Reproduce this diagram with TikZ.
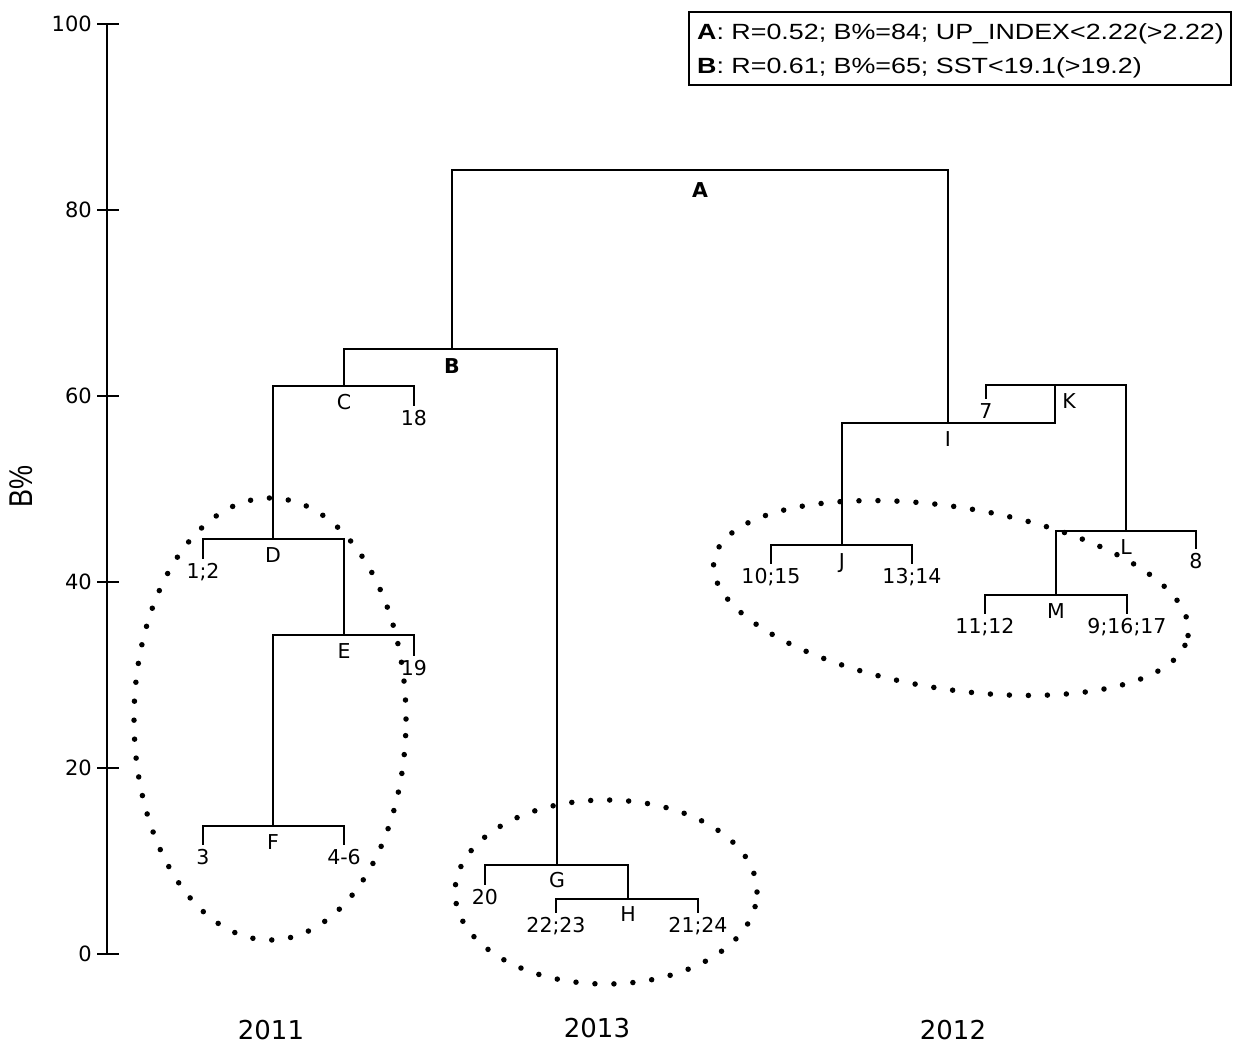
\documentclass[tikz,border=0pt]{standalone}
\usepackage{fontspec}
\setmainfont{DejaVu Sans}
\newfontfamily\arialf{Liberation Sans}
\begin{document}
\begin{tikzpicture}[x=1pt,y=-1pt,
  tree/.style={line width=2.1pt, line join=miter, line cap=rect},
  leaf/.style={anchor=north, inner sep=0pt, outer xsep=0pt, outer ysep=5.5pt,
    font=\fontsize{20.5}{24}\selectfont, text height=15pt, text depth=0pt},
  clab/.style={anchor=north, inner sep=0pt, yshift=-8pt,
    font=\fontsize{20.5}{24}\selectfont, text height=15pt, text depth=0pt},
  blab/.style={anchor=north, inner sep=0pt,
    font=\fontsize{20.5}{24}\selectfont\bfseries, text height=15pt, text depth=0pt},
  tick/.style={anchor=east, inner sep=0pt, font=\fontsize{21}{24}\selectfont},
  year/.style={inner sep=0pt, font=\fontsize{26}{30}\selectfont},
  legtxt/.style={anchor=base west, inner sep=0pt, font=\arialf\fontsize{22}{26}\selectfont},
  dotline/.style={line width=5.5pt, line cap=round, dash pattern=on 0pt off 19pt}
]
\useasboundingbox[fill=white] (0,0) rectangle (1235,1049);

% axis
\draw[line width=2.1pt] (107,954) -- (107,24);
\foreach \v/\yy in {0/954,20/768,40/582,60/396,80/210,100/24}{
  \draw[line width=2pt] (97,\yy) -- (119,\yy);
  \node[tick] (t\v) at (92,\yy) {\v};
}
\node[rotate=90, inner sep=0pt, font=\arialf\fontsize{27}{30}\selectfont] (ylab) at (21,486) {\scalebox{1}[1.22]{B\%}};

% legend
\draw[line width=1.6pt] (689,12) rectangle (1231,85);
\node[legtxt] (leg1) at (697,40) {\scalebox{1.22}[1]{\textbf{A}: R=0.52; B\%=84; UP\_INDEX<2.22(>2.22)}};
\node[legtxt] (leg2) at (697,74) {\scalebox{1.22}[1]{\textbf{B}: R=0.61; B\%=65; SST<19.1(>19.2)}};

% junctions
\coordinate (jA) at (700,170);
\coordinate (jB) at (452,349);
\coordinate (jC) at (344,386);
\coordinate (jD) at (273,539);
\coordinate (jE) at (344,635);
\coordinate (jF) at (273,826);
\coordinate (jG) at (557,865);
\coordinate (jH) at (628,899);
\coordinate (jI) at (948,423);
\coordinate (jJ) at (842,545);
\coordinate (jK) at (1055,385);
\coordinate (jL) at (1126,531);
\coordinate (jM) at (1056,595);

% leaves
\node[leaf] (l18) at (414,405) {18};
\node[leaf] (l12) at (203,558) {1;2};
\node[leaf] (l19) at (414,655) {19};
\node[leaf] (l3) at (203,844) {3};
\node[leaf] (l46) at (344,844) {4-6};
\node[leaf] (l20) at (485,884) {20};
\node[leaf] (l2223) at (556,912) {22;23};
\node[leaf] (l2124) at (698,912) {21;24};
\node[leaf] (l7) at (986,398) {7};
\node[leaf] (l8) at (1196,548) {8};
\node[leaf] (l1112) at (985,613) {11;12};
\node[leaf] (l91617) at (1127,613) {9;16;17};
\node[leaf] (l1015) at (771,563) {10;15};
\node[leaf] (l1314) at (912,563) {13;14};

% tree
\draw[tree] (jB) |- (jA) -| (jI);
\draw[tree] (jC) |- (jB) -| (jG);
\draw[tree] (jD) |- (jC) -| (l18.north);
\draw[tree] (l12.north) |- (jD) -| (jE);
\draw[tree] (jF) |- (jE) -| (l19.north);
\draw[tree] (l3.north) |- (jF) -| (l46.north);
\draw[tree] (l20.north) |- (jG) -| (jH);
\draw[tree] (l2223.north) |- (jH) -| (l2124.north);
\draw[tree] (jJ) |- (jI) -| (jK);
\draw[tree] (l7.north) |- (jK) -| (jL);
\draw[tree] (jM) |- (jL) -| (l8.north);
\draw[tree] (l1112.north) |- (jM) -| (l91617.north);
\draw[tree] (l1015.north) |- (jJ) -| (l1314.north);

% cluster labels
\node[blab, yshift=-12pt] (nA) at (jA) {A};
\node[blab, yshift=-9pt] (nB) at (jB) {B};
\node[clab] (nC) at (jC) {C};
\node[clab] (nD) at (jD) {D};
\node[clab] (nE) at (jE) {E};
\node[clab] (nF) at (jF) {F};
\node[clab, yshift=1pt] (nG) at (jG) {G};
\node[clab, yshift=1pt] (nH) at (jH) {H};
\node[clab] (nI) at (jI) {I};
\node[clab, xshift=14pt] (nK) at (jK) {K};
\node[clab] (nL) at (jL) {L};
\node[clab] (nM) at (jM) {M};
\node[clab] (nJ) at (jJ) {J};

% years
\node[year] (y2011) at (271,1030) {2011};
\node[year] (y2013) at (597,1028) {2013};
\node[year] (y2012) at (953,1030) {2012};

% dotted ellipses
\draw[dotline] (270,719) ellipse [x radius=136pt, y radius=221pt];
\draw[dotline] (606,892) ellipse [x radius=151pt, y radius=92pt];
\draw[dotline, rotate around={-9:(951,598)}] (951,598) ellipse [x radius=240pt, y radius=91pt];
\end{tikzpicture}
\end{document}
